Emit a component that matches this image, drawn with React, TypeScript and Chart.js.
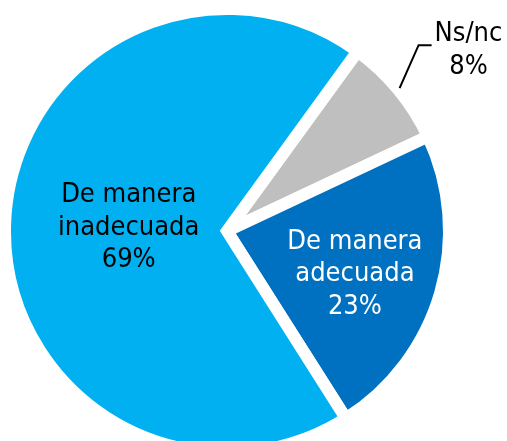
import { useEffect, useRef } from 'react';
import { Chart, registerables } from 'chart.js';

Chart.register(...registerables);

const categories = ['Ns/nc', 'De manera adecuada', 'De manera inadecuada'];
const categoryLines = [['Ns/nc'], ['De manera', 'adecuada'], ['De manera', 'inadecuada']];
const values = [8, 23, 69];
const colors = ['#BFBFBF', '#0070C0', '#00B0F0'];
const textColors = ['#000000', '#FFFFFF', '#000000'];

const FONT = "27px 'DejaVu Sans Condensed', 'DejaVu Sans', sans-serif";
const LINE_H = 32.5;
const insideFrac = [0, 0.6, 0.443];

const labelPlugin = {
  id: 'pieLabels',
  afterDatasetsDraw(chart: any) {
    const ctx = chart.ctx;
    const meta = chart.getDatasetMeta(0);
    ctx.save();
    ctx.font = FONT;
    ctx.textBaseline = 'middle';
    meta.data.forEach((arc: any, i: number) => {
      const { x, y, startAngle, endAngle, outerRadius } = arc.getProps(
        ['x', 'y', 'startAngle', 'endAngle', 'outerRadius'],
        true
      );
      const mid = (startAngle + endAngle) / 2;
      const lines = [...categoryLines[i], `${values[i]}%`];
      ctx.fillStyle = textColors[i];
      if (i === 0) {
        const r0 = outerRadius + 2;
        const p0x = x + Math.cos(mid) * r0;
        const p0y = y + Math.sin(mid) * r0;
        const p1x = p0x + 19;
        const p1y = p0y - 43;
        const p2x = p1x + 13;
        ctx.strokeStyle = '#000';
        ctx.lineWidth = 2;
        ctx.beginPath();
        ctx.moveTo(p0x, p0y);
        ctx.lineTo(p1x, p1y);
        ctx.lineTo(p2x, p1y);
        ctx.stroke();
        const w = ctx.measureText(lines[0]).width;
        const cx = p2x + 3 + w / 2;
        ctx.textAlign = 'center';
        lines.forEach((t, k) => {
          ctx.fillText(t, cx, p1y - 11.5 + k * (LINE_H + 0.5));
        });
      } else {
        const rr = outerRadius * insideFrac[i];
        const cx = x + Math.cos(mid) * rr;
        const cy = y + Math.sin(mid) * rr + (i === 1 ? 6 : 0);
        ctx.textAlign = 'center';
        lines.forEach((t, k) => {
          ctx.fillText(t, cx, cy + (k - (lines.length - 1) / 2) * LINE_H);
        });
      }
    });
    ctx.restore();
  },
};

export default function App() {
  const ref = useRef<HTMLCanvasElement | null>(null);
  useEffect(() => {
    document.body.style.margin = '0';
    document.body.style.overflow = 'hidden';
    const chart = new Chart(ref.current as HTMLCanvasElement, {
      type: 'pie',
      data: {
        labels: categories,
        datasets: [
          {
            data: values,
            backgroundColor: colors,
            borderColor: '#FFFFFF',
            borderWidth: 12,
            hoverBorderWidth: 12,
            hoverOffset: 0,
            borderJoinStyle: 'miter',
          } as any,
        ],
      },
      options: {
        animation: false,
        responsive: false,
        events: [],
        rotation: 36,
        radius: 222,
        layout: { padding: { left: 0, right: 53, top: 0, bottom: 0 } },
        plugins: {
          legend: { display: false },
          tooltip: { enabled: false },
        },
      } as any,
      plugins: [labelPlugin],
    });
    return () => chart.destroy();
  }, []);
  return (
    <div style={{ position: 'absolute', left: 0, top: 0, width: 507, height: 462, background: '#fff' }}>
      <canvas ref={ref} width={507} height={462} style={{ width: 507, height: 462, display: 'block' }} />
    </div>
  );
}
